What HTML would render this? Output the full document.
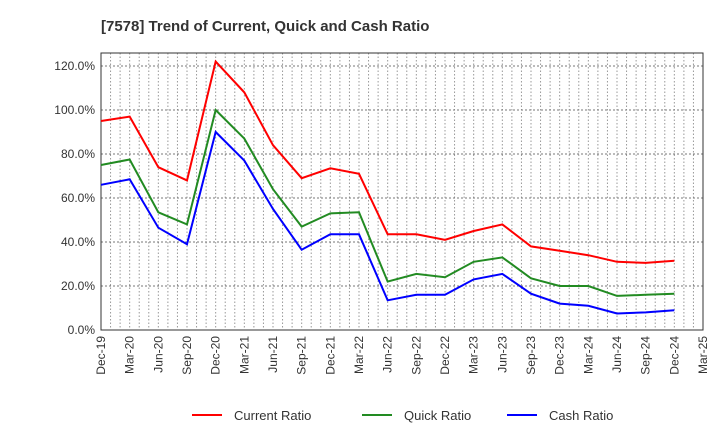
<!DOCTYPE html>
<html><head><meta charset="utf-8"><style>
body{margin:0;background:#fff;font-family:"Liberation Sans",sans-serif}
</style></head><body>
<svg id="c" width="720" height="440" xmlns="http://www.w3.org/2000/svg">
<text x="101" y="31" font-size="15" font-weight="bold" fill="#333">[7578]  Trend of Current, Quick and Cash Ratio</text>
<g id="grid"></g><g id="axes"></g><g id="series"></g>
<g>
<line x1="192" y1="415" x2="222" y2="415" stroke="#ff0000" stroke-width="2"/>
<text x="234" y="420" font-size="13" fill="#333">Current Ratio</text>
<line x1="362" y1="415" x2="392" y2="415" stroke="#228b22" stroke-width="2"/>
<text x="404" y="420" font-size="13" fill="#333">Quick Ratio</text>
<line x1="507" y1="415" x2="537" y2="415" stroke="#0000ff" stroke-width="2"/>
<text x="549" y="420" font-size="13" fill="#333">Cash Ratio</text>
</g>
</svg>
<script>
const categories=["Dec-19","Mar-20","Jun-20","Sep-20","Dec-20","Mar-21","Jun-21","Sep-21","Dec-21","Mar-22","Jun-22","Sep-22","Dec-22","Mar-23","Jun-23","Sep-23","Dec-23","Mar-24","Jun-24","Sep-24","Dec-24","Mar-25"];
const currentRatio=[95,97,74,68,122,108,84,69,73.5,71,43.5,43.5,41,45,48,38,36,34,31,30.5,31.5];
const quickRatio=[75,77.5,53.5,48,100,87,64,47,53,53.5,22,25.5,24,31,33,23.5,20,20,15.5,16,16.5];
const cashRatio=[66,68.5,46.5,39,90,77,55,36.5,43.5,43.5,13.5,16,16,23,25.5,16.5,12,11,7.5,8,9];
const yTicks=[0,20,40,60,80,100,120];
const L=101,R=703,T=53,B=330;
const NS="http://www.w3.org/2000/svg";
const xs=i=>L+i*(R-L)/(categories.length-1);
const ys=v=>B-v*(B-66)/120;
function mk(t,a,p){const e=document.createElementNS(NS,t);for(const k in a)e.setAttribute(k,a[k]);p.appendChild(e);return e;}
const g=document.getElementById('grid'),ax=document.getElementById('axes'),s=document.getElementById('series');
for(let m=1;m<(categories.length-1)*3;m++){const x=L+m*(R-L)/((categories.length-1)*3);
const l=mk('line',{x1:x,x2:x,y1:T,y2:B,stroke:'#999','stroke-dasharray':'1.5,2','stroke-width':1},g);
}
yTicks.forEach(v=>{const y=ys(v);
if(v>0){const l=mk('line',{x1:L,x2:R,y1:y,y2:y,stroke:'#777','stroke-dasharray':'2,2','stroke-width':1},g);
}
const t=mk('text',{x:L-6,y:y+4,'font-size':12,'text-anchor':'end',fill:'#333'},ax);t.textContent=v.toFixed(1)+'%';
});
const fr=mk('rect',{x:L,y:T,width:R-L,height:B-T,fill:'none',stroke:'#333','stroke-width':1},ax);

categories.forEach((c,i)=>{const x=xs(i);
const t=mk('text',{x:x+4,y:B+6,'font-size':12,'text-anchor':'end',fill:'#333',transform:`rotate(-90 ${x+4} ${B+6})`},ax);
t.textContent=c;});
[[currentRatio,'#ff0000','current-ratio-line'],[quickRatio,'#228b22','quick-ratio-line'],[cashRatio,'#0000ff','cash-ratio-line']].forEach(([d,c,n])=>{
const p=mk('polyline',{points:d.map((v,i)=>xs(i)+','+ys(v)).join(' '),fill:'none',stroke:c,'stroke-width':2},s);
});
</script>
</body></html>
